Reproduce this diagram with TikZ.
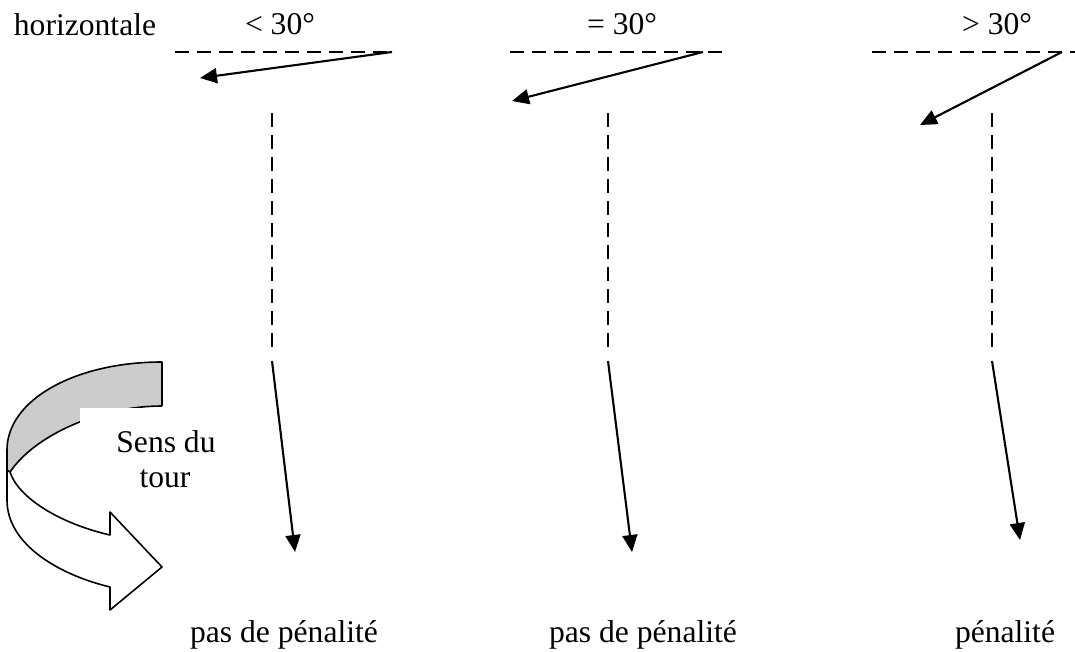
\documentclass[tikz,border=0pt]{standalone}
\usepackage{fontspec}
\setmainfont{Liberation Serif}
\usetikzlibrary{arrows.meta}
\begin{document}
\begin{tikzpicture}[x=1pt,y=-1pt,
  lbl/.style={anchor=base,inner sep=0pt,font=\fontsize{31.6}{36}\selectfont},
  ref/.style={line width=2.1pt,dash pattern=on 14pt off 8pt},
  vec/.style={line width=2.1pt,-{Triangle[length=17pt,width=15pt]}},
  band/.style={line width=1.6pt,line join=round}]
\useasboundingbox (0,0) rectangle (1075,652);
% labels
\node[lbl] (hz) at (85,36) {horizontale};
\node[lbl] (a1) at (280,35) {< 30°};
\node[lbl] (a2) at (622,35) {= 30°};
\node[lbl] (a3) at (997,35) {> 30°};
% column 1
\coordinate (h1l) at (175,52); \coordinate (h1r) at (392,52);
\coordinate (t1) at (200,78);
\coordinate (v1t) at (272,113); \coordinate (v1b) at (272,347);
\coordinate (s1) at (272,361); \coordinate (e1) at (295,552);
\draw[ref] (h1l) -- (h1r);
\draw[vec] (h1r) -- (t1);
\draw[ref] (v1t) -- (v1b);
\draw[vec] (s1) -- (e1);
% column 2
\coordinate (h2l) at (510,52); \coordinate (h2r) at (723,52);
\coordinate (o2) at (703,52); \coordinate (t2) at (512,101);
\coordinate (v2t) at (608,113); \coordinate (v2b) at (608,347);
\coordinate (s2) at (608,361); \coordinate (e2) at (632,552);
\draw[ref] (h2l) -- (h2r);
\draw[vec] (o2) -- (t2);
\draw[ref] (v2t) -- (v2b);
\draw[vec] (s2) -- (e2);
% column 3
\coordinate (h3l) at (872,52); \coordinate (h3r) at (1075,52);
\coordinate (o3) at (1062,52); \coordinate (t3) at (920,125);
\coordinate (v3t) at (992,113); \coordinate (v3b) at (992,347);
\coordinate (s3) at (992,361); \coordinate (e3) at (1020,540);
\draw[ref] (h3l) -- (h3r);
\draw[vec] (o3) -- (t3);
\draw[ref] (v3t) -- (v3b);
\draw[vec] (s3) -- (e3);
% bottom labels
\node[lbl] (p1) at (284,642) {pas de pénalité};
\node[lbl] (p2) at (643,642) {pas de pénalité};
\node[lbl] (p3) at (1005,642) {pénalité};
% curved arrow "sens du tour"
\fill[black!20] (162,362) .. controls (75,362) and (7,400) .. (7,450) -- (7,470) -- (10,472)
  .. controls (35,435) and (100,406) .. (162,406) -- cycle;
\draw[band] (162,406) -- (162,362) .. controls (75,362) and (7,400) .. (7,450) -- (7,470);
\draw[band] (10,472) .. controls (35,435) and (100,406) .. (162,406);
\draw[band,fill=white] (10,472) .. controls (18,497) and (58,523) .. (110,535) -- (110,512)
  -- (162,567) -- (110,610) -- (110,587) .. controls (60,575) and (7,545) .. (7,500) -- (7,470) -- cycle;
\fill[white] (80,408) rectangle (232,500);
\node[lbl] (sd) at (166,452) {Sens du};
\node[lbl] (st) at (165,487) {tour};
\end{tikzpicture}
\end{document}
